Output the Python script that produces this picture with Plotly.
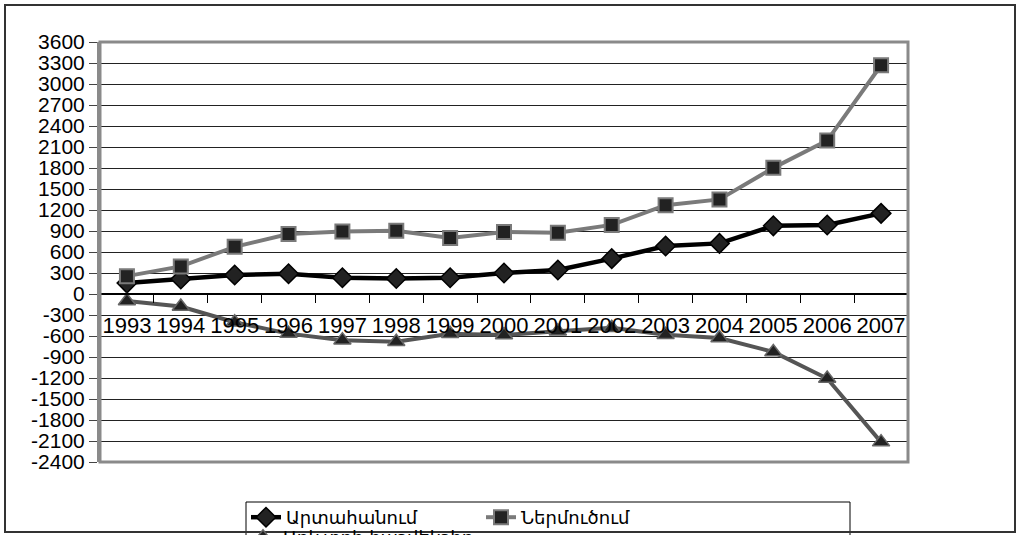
import plotly.graph_objects as go

years = ["1993", "1994", "1995", "1996", "1997", "1998", "1999", "2000",
         "2001", "2002", "2003", "2004", "2005", "2006", "2007"]
exports = [156, 215, 271, 290, 233, 221, 232, 300, 342, 505, 686, 723, 974, 985, 1152]
imports = [255, 394, 674, 856, 892, 902, 800, 885, 874, 987, 1269, 1351, 1802, 2192, 3268]
balance = [-99, -179, -403, -566, -659, -681, -568, -585, -532, -482, -583, -628, -828, -1207, -2116]
names = ["Արտահանում", "Ներմուծում", "Առևտրի հաշվեկշիռ"]
y_ticks = list(range(-2400, 3601, 300))

W, H = 1017, 535
L, R, T, B = 100, 109, 42, 73
pw, ph = W - L - R, H - T - B

def px_x(x):
    return (x - L) / pw

def px_y(y):
    return (H - B - y) / ph

FONT = "Liberation Sans, Arial, sans-serif"
LFONT = "DejaVu Sans, sans-serif"

fig = go.Figure()
fig.add_trace(go.Scatter(
    x=years, y=exports, name=names[0], mode="lines+markers",
    line=dict(color="#000000", width=4.5),
    marker=dict(symbol="diamond", size=15, color="#222222", line=dict(color="#000000", width=1.5)),
    legend="legend"))
fig.add_trace(go.Scatter(
    x=years, y=imports, name=names[1], mode="lines+markers",
    line=dict(color="#7a7a7a", width=4),
    marker=dict(symbol="square", size=14, color="#222222", line=dict(color="#7a7a7a", width=2)),
    legend="legend"))
fig.add_trace(go.Scatter(
    x=years, y=balance, name=names[2], mode="lines+markers",
    line=dict(color="#555555", width=4),
    marker=dict(symbol="triangle-up", size=15, color="#222222", line=dict(color="#666666", width=1.5)),
    legend="legend2"))

fig.update_layout(
    width=W, height=H,
    margin=dict(l=L, r=R, t=T, b=B, autoexpand=False),
    paper_bgcolor="white", plot_bgcolor="white",
    font=dict(family=FONT, size=21, color="#000000"),
    showlegend=True,
    xaxis=dict(
        type="category", anchor="free", position=0.4,
        showline=True, linecolor="#000000", linewidth=1.5,
        ticks="outside", tickson="boundaries", ticklen=8, tickcolor="#000000", tickwidth=1,
        showgrid=False, zeroline=False, tickangle=0, ticklabelstandoff=12,
        tickfont=dict(family=FONT, size=22, color="#000000"),
        range=[-0.5, 14.5],
    ),
    yaxis=dict(
        range=[-2400, 3600], tickvals=y_ticks, ticktext=[str(v) for v in y_ticks],
        showgrid=True, gridcolor="#222222", gridwidth=1,
        zeroline=False,
        showline=True, linecolor="#8a8a8a", linewidth=3,
        ticks="outside", ticklen=8, tickcolor="#444444",
        tickfont=dict(family=FONT, size=21, color="#000000"),
    ),
    legend=dict(
        orientation="h", x=px_x(246), y=px_y(499), xanchor="left", yanchor="top",
        bgcolor="rgba(0,0,0,0)", borderwidth=0, entrywidth=190, itemwidth=30,
        font=dict(family=LFONT, size=18, color="#000000"),
    ),
    legend2=dict(
        orientation="h", x=px_x(243), y=px_y(519), xanchor="left", yanchor="top",
        bgcolor="rgba(0,0,0,0)", borderwidth=0, itemwidth=30,
        font=dict(family=LFONT, size=18, color="#000000"),
    ),
    shapes=[
        dict(type="rect", xref="paper", yref="paper", x0=0, x1=1, y0=0, y1=1,
             line=dict(color="#8a8a8a", width=3), layer="above"),
        dict(type="rect", xref="paper", yref="paper",
             x0=px_x(246), x1=px_x(850), y0=px_y(600), y1=px_y(502),
             line=dict(color="#000000", width=1), layer="above"),
        dict(type="rect", xref="paper", yref="paper",
             x0=px_x(5), x1=px_x(1015), y0=px_y(532), y1=px_y(5),
             line=dict(color="#333333", width=2), layer="above"),
    ],
)

fig.write_html("out.html", config={"displayModeBar": False},
               post_script="document.body.style.margin='0';document.body.style.overflow='hidden';")
